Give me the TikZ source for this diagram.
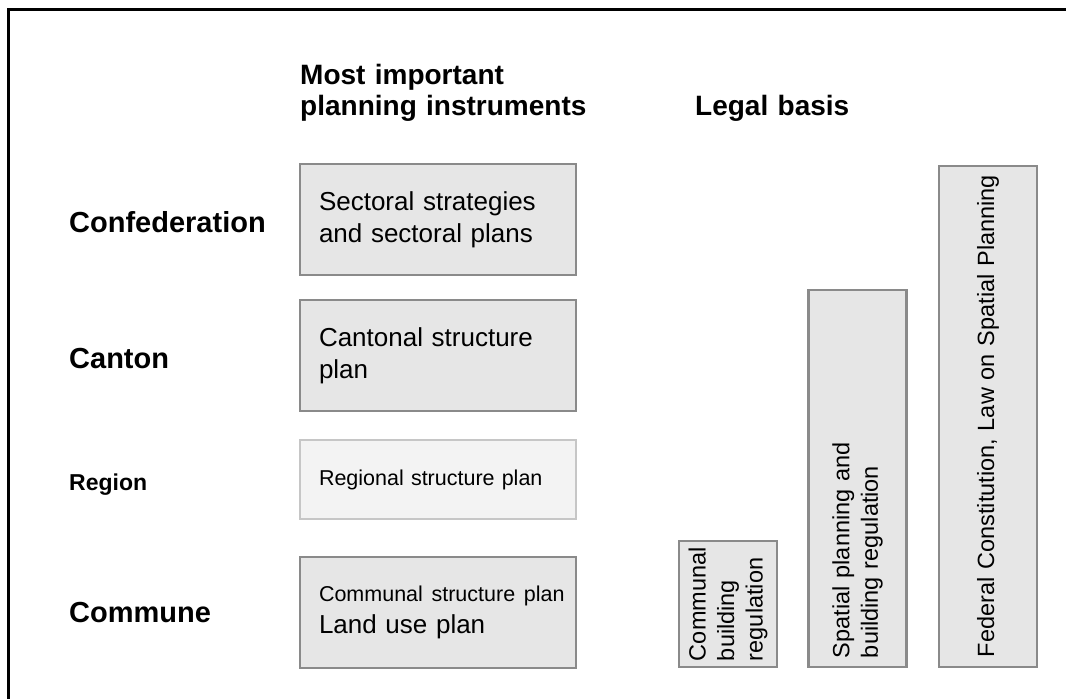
\documentclass[tikz,border=0pt]{standalone}
\usepackage{fontspec}
\setmainfont{Liberation Sans}
\usetikzlibrary{positioning}
\definecolor{boxfill}{HTML}{E6E6E6}
\definecolor{boxline}{HTML}{8A8A8A}
\definecolor{regfill}{HTML}{F3F3F3}
\definecolor{regline}{HTML}{C6C6C6}

\begin{document}
\begin{tikzpicture}[x=1pt,y=-1pt,
  level/.style={anchor=base west, inner sep=0pt, font=\bfseries\fontsize{29}{33}\selectfont},
  heading/.style={anchor=base west, inner sep=0pt, text width=300pt, align=left, font=\bfseries\fontsize{28}{31}\selectfont},
  instbox/.style={draw=boxline, fill=boxfill, line width=2.5pt, inner xsep=19pt, text width=238pt, minimum height=111pt, align=left, font=\fontsize{26}{32}\selectfont},
  legalbox/.style={draw=boxline, fill=boxfill, line width=2.5pt, rotate=90, minimum height=98pt, align=left, font=\fontsize{23.5}{28.5}\selectfont}]

\useasboundingbox (0,0) rectangle (1066,699);
% frame
\draw[line width=3pt] (8,699) -- (8,9) -- (1066,9);

% headings
\node[heading] (headinst) at (300,84) {Most important\\planning instruments};
\node[heading, text width=200pt] (headlegal) at (695,115) {Legal basis};

% levels
\node[level] (conf) at (69,232) {Confederation};
\node[level] (cant) at (69,368) {Canton};
\node[level, font=\bfseries\fontsize{23}{27}\selectfont] (regn) at (69,490) {Region};
\node[level] (comm) at (69,622) {Commune};

% planning instruments
\node[instbox] (sectplan) at (438,219.5) {Sectoral strategies\\and sectoral plans};
\node[instbox] (cantplan) at (438,355.5) {Cantonal structure\\plan};
\node[instbox, draw=regline, fill=regfill, minimum height=79pt, font=\fontsize{21.5}{32}\selectfont] (regplan) at (438,479.5) {\mbox{Regional structure plan}};
\node[instbox] (commplan) at (438,612.5) {\mbox{\fontsize{21.5}{32}\selectfont Communal structure plan}\\Land use plan};

% legal basis
\node[legalbox, inner xsep=6pt, text width=114pt, minimum width=126pt] (commreg) at (728,604) {\mbox{Communal}\\building\\regulation};
\node[legalbox, inner xsep=9pt, text width=359pt, minimum width=377pt] (spatreg) at (857.5,478.5) {Spatial planning and\\building regulation};
\node[legalbox, inner xsep=10pt, text width=481pt, minimum width=501pt] (fedlaw) at (988,416.5) {\mbox{Federal Constitution, Law on Spatial Planning}};
\end{tikzpicture}
\end{document}
